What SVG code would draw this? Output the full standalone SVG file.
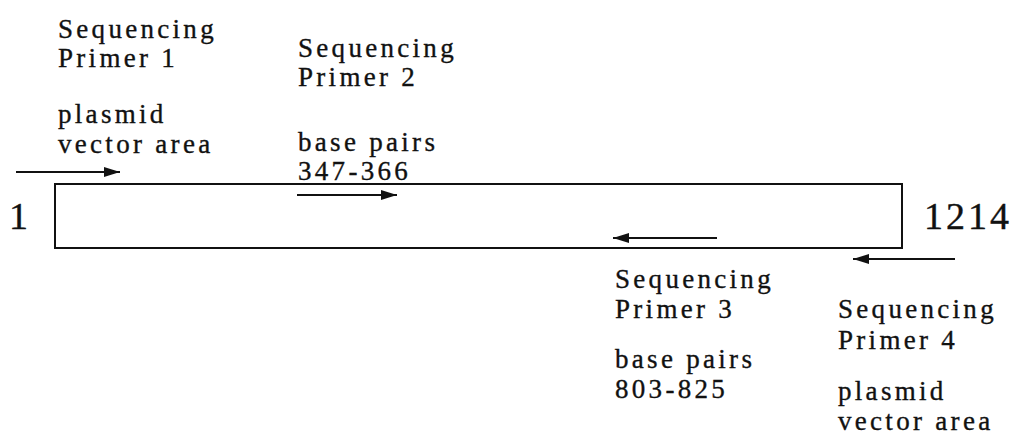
<svg xmlns="http://www.w3.org/2000/svg" width="1020" height="439" viewBox="0 0 1020 439">
  <style>
    .lbl { font-family: "Liberation Serif", "Times New Roman", serif; font-size: 27px; letter-spacing: 3.3px; fill: #111; stroke: #111; stroke-width: 0.35; }
    .end { font-family: "Liberation Serif", "Times New Roman", serif; font-size: 38px; letter-spacing: 3px; fill: #111; stroke: #111; stroke-width: 0.4; }
    .seq { fill: none; stroke: #111; stroke-width: 2; }
    .arr { stroke: #111; stroke-width: 2; fill: none; marker-end: url(#head); }
  </style>
  <defs>
    <marker id="head" viewBox="0 0 16 10" refX="16" refY="5" markerWidth="16" markerHeight="10" markerUnits="userSpaceOnUse" orient="auto">
      <path d="M0,0 L16,5 L0,10 Z" fill="#111"/>
    </marker>
  </defs>
  <rect width="1020" height="439" fill="#fff"/>

  <!-- sequence bar with end coordinates -->
  <g id="sequence">
    <rect class="seq" x="55" y="184" width="847" height="64"/>
    <text class="end" x="9" y="229">1</text>
    <text class="end" x="924" y="229">1214</text>
  </g>

  <g id="primer1">
    <text class="lbl" x="58" y="38">Sequencing</text>
    <text class="lbl" x="58" y="67">Primer 1</text>
    <text class="lbl" x="58" y="123">plasmid</text>
    <text class="lbl" x="58" y="153">vector area</text>
  </g>

  <g id="primer2">
    <text class="lbl" x="298" y="57">Sequencing</text>
    <text class="lbl" x="298" y="86">Primer 2</text>
    <text class="lbl" x="298" y="151">base pairs</text>
    <text class="lbl" x="298" y="180">347-366</text>
  </g>

  <g id="primer3">
    <text class="lbl" x="615" y="288">Sequencing</text>
    <text class="lbl" x="615" y="318">Primer 3</text>
    <text class="lbl" x="615" y="368">base pairs</text>
    <text class="lbl" x="615" y="398">803-825</text>
  </g>

  <g id="primer4">
    <text class="lbl" x="838" y="318">Sequencing</text>
    <text class="lbl" x="838" y="349">Primer 4</text>
    <text class="lbl" x="838" y="400">plasmid</text>
    <text class="lbl" x="838" y="430">vector area</text>
  </g>

  <!-- primer direction arrows -->
  <g id="connectors">
    <line class="arr" x1="16" y1="172" x2="120" y2="172"/>
    <line class="arr" x1="297" y1="195" x2="397" y2="195"/>
    <line class="arr" x1="717" y1="238" x2="613" y2="238"/>
    <line class="arr" x1="955" y1="259" x2="853" y2="259"/>
  </g>
</svg>
